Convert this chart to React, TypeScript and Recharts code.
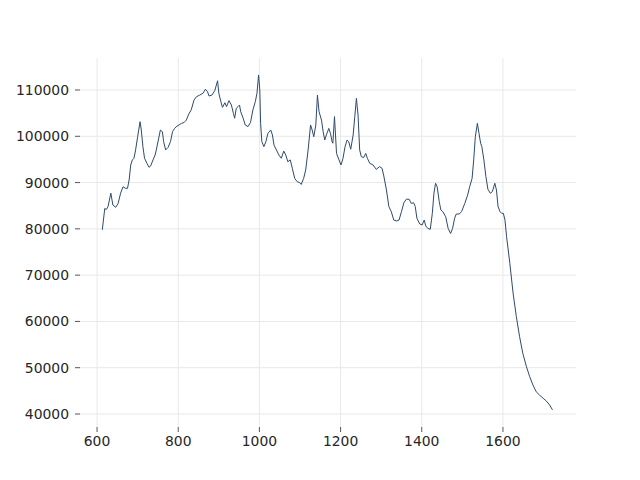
import { LineChart, Line, XAxis, YAxis, CartesianGrid } from "recharts"

// Raman-like spectrum, values
const wavenumber = [
  613, 619, 623, 627, 634, 639, 646, 652, 658, 664, 670, 675, 679, 683, 687, 691, 695, 700, 706, 709,
  713, 717, 723, 728, 732, 738, 743, 746, 751, 756, 761, 764, 769, 775, 781, 786, 791, 797, 802, 808,
  814, 820, 826, 832, 839, 845, 853, 861, 867, 872, 876, 883, 890, 897, 900, 905, 909, 915, 919, 925,
  931, 936, 939, 943, 947, 951, 954, 960, 965, 972, 978, 984, 990, 994, 998, 1001, 1003, 1006, 1011, 1016,
  1021, 1028, 1032, 1036, 1042, 1048, 1054, 1060, 1065, 1070, 1076, 1081, 1087, 1093, 1099, 1103, 1109, 1114, 1120, 1126,
  1130, 1134, 1139, 1143, 1147, 1153, 1157, 1161, 1165, 1171, 1175, 1179, 1181, 1185, 1190, 1196, 1201, 1206, 1211, 1216,
  1220, 1225, 1231, 1235, 1239, 1243, 1247, 1251, 1257, 1262, 1266, 1272, 1280, 1288, 1296, 1302, 1306, 1313, 1319, 1325,
  1331, 1338, 1344, 1350, 1356, 1362, 1369, 1374, 1380, 1384, 1388, 1395, 1401, 1406, 1410, 1415, 1421, 1426, 1430, 1434,
  1438, 1443, 1447, 1452, 1459, 1465, 1471, 1476, 1481, 1485, 1492, 1498, 1506, 1513, 1518, 1524, 1528, 1532, 1537, 1541,
  1545, 1548, 1553, 1558, 1563, 1569, 1574, 1580, 1584, 1588, 1593, 1597, 1601, 1605, 1609, 1617, 1625, 1633, 1641, 1649,
  1658, 1666, 1674, 1682, 1690, 1699, 1707, 1715, 1722,
]

const intensity = [
  79800, 84400, 84200, 84800, 87700, 85150, 84650, 85500, 87700, 89100, 88750, 88750, 90550, 93800, 94900, 95250, 97050, 99900, 103150, 101350,
  97750, 95250, 94150, 93300, 93600, 94900, 95950, 97050, 99200, 101350, 101000, 98850, 97050, 97600, 98850, 101000, 101700, 102200, 102450, 102800,
  102950, 103500, 104800, 105700, 107850, 108550, 108900, 109300, 110150, 109650, 108700, 108900, 109850, 112000, 109300, 107500, 106250, 107250, 106400, 107700,
  106750, 104950, 103900, 106050, 106400, 106750, 105300, 103900, 102450, 102100, 102950, 105700, 107500, 109300, 113250, 110000, 102800, 98850, 97750, 98850,
  100650, 101350, 100300, 98100, 97050, 95950, 95250, 96800, 95950, 94500, 94900, 93100, 90900, 90200, 90000, 89600, 90900, 92700, 97050, 102450,
  101350, 99900, 102450, 108900, 105300, 103500, 101000, 99200, 100300, 101700, 100650, 98850, 98500, 104250, 96300, 94900, 93800, 95250, 97750, 99200,
  98850, 97200, 100300, 104250, 108200, 104600, 97050, 95600, 95400, 96300, 95250, 94150, 93800, 92850, 93450, 93100, 91650, 88400, 84800, 83700,
  81900, 81700, 81900, 83700, 85650, 86400, 86400, 85500, 85650, 84800, 82300, 81050, 80850, 81900, 80600, 80100, 79900, 83350, 87700, 89850,
  89100, 85900, 84100, 83700, 82600, 80100, 79000, 80100, 82300, 83200, 83200, 83700, 85500, 87300, 89100, 90900, 94900, 99900, 102800, 100650,
  98500, 97750, 94900, 91300, 88550, 87700, 88050, 89850, 88400, 84800, 83700, 83350, 83350, 81900, 78300, 72550, 66100, 61050, 56700, 53100,
  50200, 48050, 46250, 44800, 44100, 43400, 42800, 41950, 40900,
]

const xTicks = [600, 800, 1000, 1200, 1400, 1600]
const yTicks = [40000, 50000, 60000, 70000, 80000, 90000, 100000, 110000]

const data = wavenumber.map((x, i) => ({ x, y: intensity[i] }))

const tickStyle = { fontSize: 13.9, fill: "#262626", fontFamily: "DejaVu Sans" }

export default function App() {
  return (
    <div style={{ position: "absolute", left: 0, top: 0, width: 640, height: 480, background: "#fff" }}>
      <LineChart width={640} height={480} data={data} margin={{ top: 58, right: 64, left: 0, bottom: 0 }}>
        <CartesianGrid stroke="#e8e8e8" strokeWidth={1} syncWithTicks />
        <XAxis
          dataKey="x"
          type="number"
          domain={[558, 1780]}
          ticks={xTicks}
          axisLine={false}
          tickLine={{ stroke: "#555" }}
          tickSize={5}
          tickMargin={4}
          height={53}
          tick={tickStyle}
          allowDataOverflow
        />
        <YAxis
          type="number"
          domain={[37192, 116913]}
          ticks={yTicks}
          axisLine={false}
          tickLine={{ stroke: "#555" }}
          tickSize={5}
          tickMargin={6}
          width={80}
          tick={tickStyle}
          allowDataOverflow
        />
        <Line
          type="linear"
          dataKey="y"
          stroke="#2d4a6d"
          strokeWidth={1}
          dot={false}
          isAnimationActive={false}
        />
      </LineChart>
    </div>
  )
}
